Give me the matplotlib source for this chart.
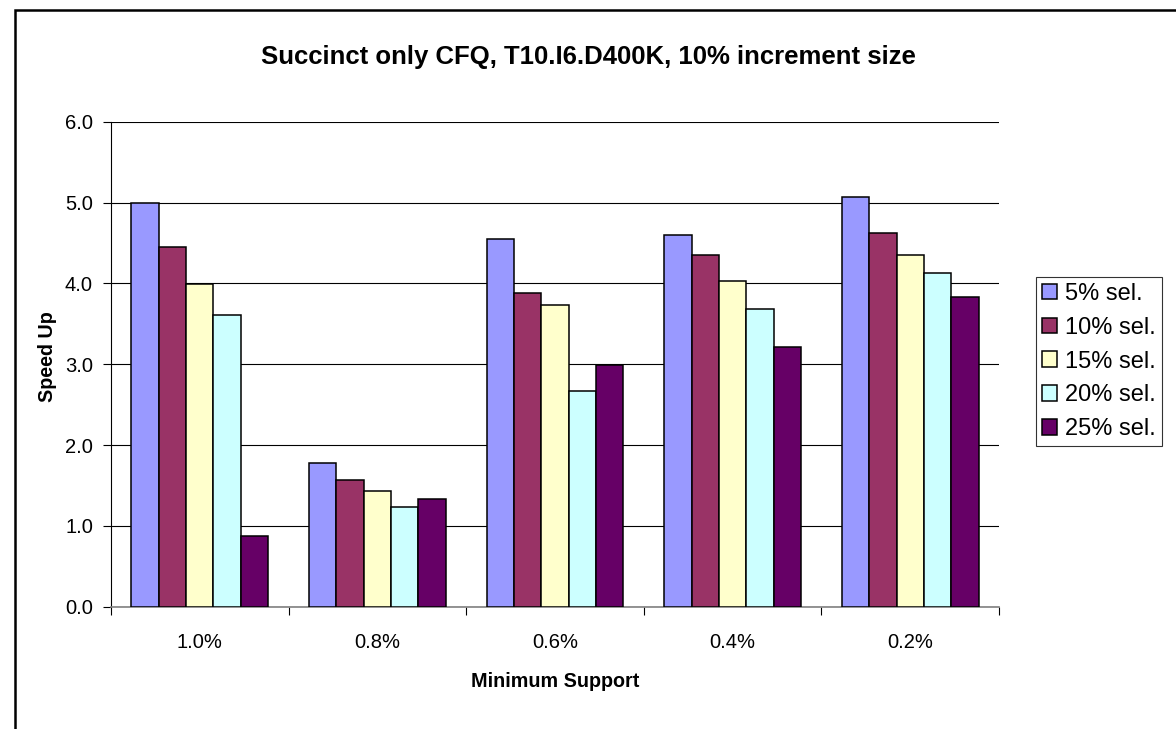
import matplotlib
matplotlib.use("Agg")
import matplotlib.pyplot as plt
import numpy as np
from matplotlib.patches import Rectangle

plt.rcParams['font.family'] = ['Liberation Sans', 'DejaVu Sans']

categories = ["1.0%", "0.8%", "0.6%", "0.4%", "0.2%"]
series_names = ["5% sel.", "10% sel.", "15% sel.", "20% sel.", "25% sel."]
sel_5 = [5.00, 1.78, 4.55, 4.60, 5.07]
sel_10 = [4.45, 1.57, 3.88, 4.35, 4.62]
sel_15 = [3.99, 1.43, 3.73, 4.03, 4.35]
sel_20 = [3.61, 1.23, 2.67, 3.68, 4.13]
sel_25 = [0.88, 1.33, 2.99, 3.21, 3.83]
series_values = [sel_5, sel_10, sel_15, sel_20, sel_25]
colors = ["#9999FF", "#993366", "#FFFFCC", "#CCFFFF", "#660066"]

W, H = 1176, 729
fig = plt.figure(figsize=(W / 100, H / 100), dpi=100)
ax = fig.add_axes([111 / W, 1 - 606.7 / H, 888 / W, 485 / H])

# outer chart border
fig.patches.append(Rectangle((15 / W, -0.1), 1.2, 1 - 10 / H + 0.1,
                             transform=fig.transFigure, fill=False,
                             edgecolor="black", linewidth=1.8))

n = len(series_names)
bar_w = 1.0 / 6.5
x = np.arange(len(categories))
for i, (name, vals, c) in enumerate(zip(series_names, series_values, colors)):
    offs = (i - (n - 1) / 2) * bar_w
    ax.bar(x + offs, vals, width=bar_w, color=c, edgecolor="black",
           linewidth=1.1, label=name, zorder=3)

ax.set_xlim(-0.5, len(categories) - 0.5)
ax.set_ylim(0, 6)
yt = np.arange(0, 6.01, 1.0)
ax.set_yticks(yt)
ax.set_yticklabels([f"{v:.1f}" for v in yt])
ax.yaxis.grid(True, color="black", linewidth=0.8, zorder=0)
ax.set_axisbelow(True)

ax.set_xticks(x)
ax.set_xticklabels(categories)
ax.set_xticks(np.arange(-0.5, len(categories)), minor=True)
ax.tick_params(axis="x", which="major", length=0, pad=19, labelsize=14.5)
ax.tick_params(axis="x", which="minor", length=6, width=0.8, direction="out")
ax.tick_params(axis="y", length=6, width=0.8, direction="out", pad=7, labelsize=14.5)

for s in ["top", "right"]:
    ax.spines[s].set_visible(False)
ax.spines["left"].set_color("black")
ax.spines["left"].set_linewidth(0.8)
ax.spines["bottom"].set_color("#808080")
ax.spines["bottom"].set_linewidth(1.2)

ax.set_xlabel("Minimum Support", fontsize=14.2, fontweight="bold", labelpad=14)
ax.set_ylabel("Speed Up", fontsize=14.2, fontweight="bold")
ax.yaxis.set_label_coords(-0.061, 0.515)
fig.text(0.5, 1 - 57 / H, "Succinct only CFQ, T10.I6.D400K, 10% increment size",
         ha="center", va="center", fontsize=18.5, fontweight="bold")

leg = fig.legend(loc="center left", bbox_to_anchor=(1036 / W, 1 - 361.5 / H),
                 bbox_transform=fig.transFigure, frameon=True,
                 fancybox=False, edgecolor="black", fontsize=17,
                 handlelength=0.65, handleheight=0.65, handletextpad=0.33,
                 labelspacing=0.5, borderpad=0.25, borderaxespad=0)
leg.get_frame().set_linewidth(0.8)

fig.savefig("out.png", dpi=100, facecolor="white")
